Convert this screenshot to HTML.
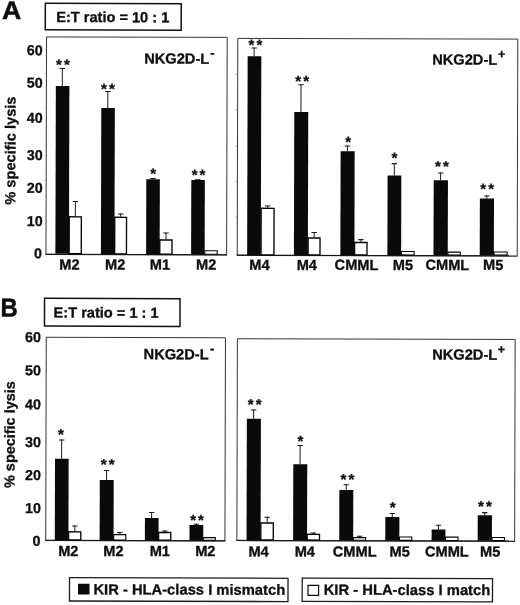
<!DOCTYPE html>
<html lang="en">
<head>
<meta charset="utf-8">
<title>Figure</title>
<style>
html,body{margin:0;padding:0;background:#fff;}
body{width:520px;height:605px;overflow:hidden;}
svg{display:block;will-change:transform;font-family:'Liberation Sans',Arial,Helvetica,sans-serif;fill:#0d0d0d;}
</style>
</head>
<body>
<svg width="520" height="605" viewBox="0 0 520 605" font-family="Liberation Sans, Arial, Helvetica, sans-serif">
<rect x="0" y="0" width="520" height="605" fill="#ffffff"/>
<g transform="rotate(0.149 260.0 302.0)">
<text transform="translate(1.26,19.77) scale(1.045,1)" font-size="25.45" font-weight="bold" text-anchor="start" stroke="#0d0d0d" stroke-width="0.5">A</text>
<text transform="translate(0.64,317.07) scale(0.915,1)" font-size="26.01" font-weight="bold" text-anchor="start" stroke="#0d0d0d" stroke-width="0.5">B</text>
<rect x="44.56" y="3.88" width="135.9" height="26.5" fill="none" stroke="#111" stroke-width="1.5"/>
<text transform="translate(55.46,22.48)" font-size="14.6" font-weight="bold" text-anchor="start" stroke="#0d0d0d" stroke-width="0.3">E:T ratio = 10 : 1</text>
<rect x="44.53" y="298.88" width="135.5" height="27.8" fill="none" stroke="#111" stroke-width="1.5"/>
<text transform="translate(53.63,318.0)" font-size="14.6" font-weight="bold" text-anchor="start" stroke="#0d0d0d" stroke-width="0.3">E:T ratio = 1 : 1</text>
<text transform="translate(41.95,55.73)" font-size="14.3" font-weight="bold" text-anchor="end" stroke="#0d0d0d" stroke-width="0.3">60</text>
<text transform="translate(42.03,88.23)" font-size="14.3" font-weight="bold" text-anchor="end" stroke="#0d0d0d" stroke-width="0.3">50</text>
<text transform="translate(42.12,123.33)" font-size="14.3" font-weight="bold" text-anchor="end" stroke="#0d0d0d" stroke-width="0.3">40</text>
<text transform="translate(42.22,160.63)" font-size="14.3" font-weight="bold" text-anchor="end" stroke="#0d0d0d" stroke-width="0.3">30</text>
<text transform="translate(42.3,193.43)" font-size="14.3" font-weight="bold" text-anchor="end" stroke="#0d0d0d" stroke-width="0.3">20</text>
<text transform="translate(42.39,226.63)" font-size="14.3" font-weight="bold" text-anchor="end" stroke="#0d0d0d" stroke-width="0.3">10</text>
<text transform="translate(41.87,258.73)" font-size="14.3" font-weight="bold" text-anchor="end" stroke="#0d0d0d" stroke-width="0.3">0</text>
<text transform="translate(41.09,342.64)" font-size="14.3" font-weight="bold" text-anchor="end" stroke="#0d0d0d" stroke-width="0.3">60</text>
<text transform="translate(41.18,375.84)" font-size="14.3" font-weight="bold" text-anchor="end" stroke="#0d0d0d" stroke-width="0.3">50</text>
<text transform="translate(41.27,409.74)" font-size="14.3" font-weight="bold" text-anchor="end" stroke="#0d0d0d" stroke-width="0.3">40</text>
<text transform="translate(41.36,447.64)" font-size="14.3" font-weight="bold" text-anchor="end" stroke="#0d0d0d" stroke-width="0.3">30</text>
<text transform="translate(41.45,480.54)" font-size="14.3" font-weight="bold" text-anchor="end" stroke="#0d0d0d" stroke-width="0.3">20</text>
<text transform="translate(41.54,513.54)" font-size="14.3" font-weight="bold" text-anchor="end" stroke="#0d0d0d" stroke-width="0.3">10</text>
<text transform="translate(41.02,546.34)" font-size="14.3" font-weight="bold" text-anchor="end" stroke="#0d0d0d" stroke-width="0.3">0</text>
<text transform="translate(15.01,151.24) rotate(-90)" font-size="14.65" font-weight="bold" text-anchor="middle" stroke="#0d0d0d" stroke-width="0.3">% specific lysis</text>
<text transform="translate(15.04,435.24) rotate(-90)" font-size="14.45" font-weight="bold" text-anchor="middle" stroke="#0d0d0d" stroke-width="0.3">% specific lysis</text>
<rect x="45.85" y="37.47" width="180.65" height="217.43" fill="none" stroke="#2a2a2a" stroke-width="0.95"/>
<line x1="45.35" y1="254.9" x2="227.0" y2="254.9" stroke="#151515" stroke-width="1.25"/>
<line x1="61.72" y1="68.51" x2="61.72" y2="86.51" stroke="#1a1a1a" stroke-width="1.0"/>
<line x1="59.02" y1="68.96" x2="64.42" y2="68.96" stroke="#1a1a1a" stroke-width="1.1"/>
<rect x="55.26" y="86.51" width="13.55" height="167.86" fill="#0a0a0a"/>
<line x1="75.11" y1="201.48" x2="75.11" y2="216.78" stroke="#1a1a1a" stroke-width="1.0"/>
<line x1="72.41" y1="201.93" x2="77.81" y2="201.93" stroke="#1a1a1a" stroke-width="1.1"/>
<rect x="69.03" y="217.28" width="12.1" height="36.91" fill="#fff" stroke="#050505" stroke-width="1.35"/>
<line x1="107.27" y1="91.4" x2="107.27" y2="108.4" stroke="#1a1a1a" stroke-width="1.0"/>
<line x1="104.57" y1="91.85" x2="109.97" y2="91.85" stroke="#1a1a1a" stroke-width="1.1"/>
<rect x="100.79" y="108.4" width="13.55" height="146.04" fill="#0a0a0a"/>
<line x1="120.47" y1="213.86" x2="120.47" y2="217.16" stroke="#1a1a1a" stroke-width="1.0"/>
<line x1="117.77" y1="214.31" x2="123.17" y2="214.31" stroke="#1a1a1a" stroke-width="1.1"/>
<rect x="114.53" y="217.66" width="11.8" height="36.59" fill="#fff" stroke="#050505" stroke-width="1.35"/>
<line x1="152.58" y1="178.28" x2="152.58" y2="179.58" stroke="#1a1a1a" stroke-width="1.0"/>
<line x1="149.88" y1="178.73" x2="155.28" y2="178.73" stroke="#1a1a1a" stroke-width="1.1"/>
<rect x="145.98" y="179.58" width="13.55" height="74.91" fill="#0a0a0a"/>
<line x1="165.83" y1="232.74" x2="165.83" y2="239.74" stroke="#1a1a1a" stroke-width="1.0"/>
<line x1="163.13" y1="233.19" x2="168.53" y2="233.19" stroke="#1a1a1a" stroke-width="1.1"/>
<rect x="159.66" y="240.24" width="12.2" height="14.07" fill="#fff" stroke="#050505" stroke-width="1.35"/>
<line x1="197.58" y1="179.56" x2="197.58" y2="180.16" stroke="#1a1a1a" stroke-width="1.0"/>
<line x1="194.88" y1="180.01" x2="200.28" y2="180.01" stroke="#1a1a1a" stroke-width="1.1"/>
<rect x="190.98" y="180.16" width="13.55" height="74.39" fill="#0a0a0a"/>
<rect x="204.67" y="250.88" width="12.4" height="3.49" fill="#fff" stroke="#050505" stroke-width="1.1"/>
<text x="63.43" y="70.26" font-size="15.0" font-weight="bold" text-anchor="middle" letter-spacing="2.1" stroke="#0d0d0d" stroke-width="0.3">**</text>
<text x="108.49" y="94.35" font-size="15.0" font-weight="bold" text-anchor="middle" letter-spacing="2.1" stroke="#0d0d0d" stroke-width="0.3">**</text>
<text x="154.01" y="179.13" font-size="15.0" font-weight="bold" text-anchor="middle" letter-spacing="2.1" stroke="#0d0d0d" stroke-width="0.3">*</text>
<text x="199.31" y="180.21" font-size="15.0" font-weight="bold" text-anchor="middle" letter-spacing="2.1" stroke="#0d0d0d" stroke-width="0.3">**</text>
<text transform="translate(69.4,270.0)" font-size="14.6" font-weight="bold" text-anchor="middle" stroke="#0d0d0d" stroke-width="0.3">M2</text>
<text transform="translate(115.1,269.88)" font-size="14.6" font-weight="bold" text-anchor="middle" stroke="#0d0d0d" stroke-width="0.3">M2</text>
<text transform="translate(159.9,269.76)" font-size="14.6" font-weight="bold" text-anchor="middle" stroke="#0d0d0d" stroke-width="0.3">M1</text>
<text transform="translate(206.1,269.64)" font-size="14.6" font-weight="bold" text-anchor="middle" stroke="#0d0d0d" stroke-width="0.3">M2</text>
<text transform="translate(143.57,63.82)" font-size="14.65" font-weight="bold" text-anchor="start" stroke="#0d0d0d" stroke-width="0.3">NKG2D-L</text>
<text transform="translate(209.66,57.42)" font-size="13.0" font-weight="bold" text-anchor="start" stroke="#0d0d0d" stroke-width="0.3">-</text>
<line x1="234.91" y1="74.46" x2="236.51" y2="74.46" stroke="#8c8c8c" stroke-width="0.8"/>
<line x1="43.81" y1="73.96" x2="45.31" y2="73.96" stroke="#a5a5a5" stroke-width="0.7"/>
<line x1="235.0" y1="110.16" x2="236.6" y2="110.16" stroke="#8c8c8c" stroke-width="0.8"/>
<line x1="43.9" y1="109.66" x2="45.4" y2="109.66" stroke="#a5a5a5" stroke-width="0.7"/>
<line x1="235.09" y1="145.86" x2="236.69" y2="145.86" stroke="#8c8c8c" stroke-width="0.8"/>
<line x1="43.99" y1="145.36" x2="45.49" y2="145.36" stroke="#a5a5a5" stroke-width="0.7"/>
<line x1="235.19" y1="181.56" x2="236.79" y2="181.56" stroke="#8c8c8c" stroke-width="0.8"/>
<line x1="44.08" y1="181.06" x2="45.58" y2="181.06" stroke="#a5a5a5" stroke-width="0.7"/>
<line x1="235.28" y1="217.26" x2="236.88" y2="217.26" stroke="#8c8c8c" stroke-width="0.8"/>
<line x1="44.18" y1="216.76" x2="45.68" y2="216.76" stroke="#a5a5a5" stroke-width="0.7"/>
<rect x="237.1" y="38.45" width="280.0" height="216.85" fill="none" stroke="#2a2a2a" stroke-width="0.95"/>
<line x1="236.6" y1="255.3" x2="517.6" y2="255.3" stroke="#151515" stroke-width="1.25"/>
<line x1="253.5" y1="47.52" x2="253.5" y2="56.32" stroke="#1a1a1a" stroke-width="1.0"/>
<line x1="250.8" y1="47.97" x2="256.2" y2="47.97" stroke="#1a1a1a" stroke-width="1.1"/>
<rect x="247.02" y="56.32" width="13.65" height="198.71" fill="#0a0a0a"/>
<line x1="267.4" y1="205.58" x2="267.4" y2="207.78" stroke="#1a1a1a" stroke-width="1.0"/>
<line x1="264.7" y1="206.03" x2="270.1" y2="206.03" stroke="#1a1a1a" stroke-width="1.1"/>
<rect x="260.92" y="208.28" width="12.9" height="46.52" fill="#fff" stroke="#050505" stroke-width="1.35"/>
<line x1="300.47" y1="84.19" x2="300.47" y2="111.89" stroke="#1a1a1a" stroke-width="1.0"/>
<line x1="297.77" y1="84.64" x2="303.17" y2="84.64" stroke="#1a1a1a" stroke-width="1.1"/>
<rect x="293.79" y="111.89" width="13.95" height="143.05" fill="#0a0a0a"/>
<line x1="313.98" y1="231.86" x2="313.98" y2="237.36" stroke="#1a1a1a" stroke-width="1.0"/>
<line x1="311.28" y1="232.31" x2="316.68" y2="232.31" stroke="#1a1a1a" stroke-width="1.1"/>
<rect x="307.96" y="237.86" width="11.9" height="16.85" fill="#fff" stroke="#050505" stroke-width="1.35"/>
<line x1="347.05" y1="145.27" x2="347.05" y2="151.07" stroke="#1a1a1a" stroke-width="1.0"/>
<line x1="344.35" y1="145.72" x2="349.75" y2="145.72" stroke="#1a1a1a" stroke-width="1.1"/>
<rect x="340.24" y="151.07" width="14.05" height="103.78" fill="#0a0a0a"/>
<line x1="360.74" y1="238.94" x2="360.74" y2="241.74" stroke="#1a1a1a" stroke-width="1.0"/>
<line x1="358.04" y1="239.39" x2="363.44" y2="239.39" stroke="#1a1a1a" stroke-width="1.1"/>
<rect x="354.46" y="242.24" width="12.4" height="12.39" fill="#fff" stroke="#050505" stroke-width="1.35"/>
<line x1="393.96" y1="162.85" x2="393.96" y2="175.15" stroke="#1a1a1a" stroke-width="1.0"/>
<line x1="391.26" y1="163.3" x2="396.66" y2="163.3" stroke="#1a1a1a" stroke-width="1.1"/>
<rect x="387.27" y="175.15" width="13.75" height="79.61" fill="#0a0a0a"/>
<rect x="401.17" y="251.07" width="12.9" height="3.47" fill="#fff" stroke="#050505" stroke-width="1.1"/>
<line x1="440.32" y1="172.03" x2="440.32" y2="179.73" stroke="#1a1a1a" stroke-width="1.0"/>
<line x1="437.62" y1="172.48" x2="443.02" y2="172.48" stroke="#1a1a1a" stroke-width="1.1"/>
<rect x="433.38" y="179.73" width="14.25" height="74.95" fill="#0a0a0a"/>
<rect x="447.77" y="251.65" width="12.4" height="2.8" fill="#fff" stroke="#050505" stroke-width="1.1"/>
<line x1="486.53" y1="194.91" x2="486.53" y2="198.01" stroke="#1a1a1a" stroke-width="1.0"/>
<line x1="483.83" y1="195.36" x2="489.23" y2="195.36" stroke="#1a1a1a" stroke-width="1.1"/>
<rect x="479.6" y="198.01" width="14.15" height="56.58" fill="#0a0a0a"/>
<rect x="493.87" y="251.42" width="13.1" height="2.94" fill="#fff" stroke="#050505" stroke-width="1.1"/>
<text x="255.77" y="49.96" font-size="15.0" font-weight="bold" text-anchor="middle" letter-spacing="2.1" stroke="#0d0d0d" stroke-width="0.3">**</text>
<text x="302.67" y="86.14" font-size="15.0" font-weight="bold" text-anchor="middle" letter-spacing="2.1" stroke="#0d0d0d" stroke-width="0.3">**</text>
<text x="348.73" y="146.82" font-size="15.0" font-weight="bold" text-anchor="middle" letter-spacing="2.1" stroke="#0d0d0d" stroke-width="0.3">*</text>
<text x="395.17" y="162.6" font-size="15.0" font-weight="bold" text-anchor="middle" letter-spacing="2.1" stroke="#0d0d0d" stroke-width="0.3">*</text>
<text x="442.69" y="171.08" font-size="15.0" font-weight="bold" text-anchor="middle" letter-spacing="2.1" stroke="#0d0d0d" stroke-width="0.3">**</text>
<text x="487.95" y="193.36" font-size="15.0" font-weight="bold" text-anchor="middle" letter-spacing="2.1" stroke="#0d0d0d" stroke-width="0.3">**</text>
<text transform="translate(259.4,269.9)" font-size="14.6" font-weight="bold" text-anchor="middle" stroke="#0d0d0d" stroke-width="0.3">M4</text>
<text transform="translate(306.7,269.78)" font-size="14.6" font-weight="bold" text-anchor="middle" stroke="#0d0d0d" stroke-width="0.3">M4</text>
<text transform="translate(356.4,269.65)" font-size="14.6" font-weight="bold" text-anchor="middle" stroke="#0d0d0d" stroke-width="0.3">CMML</text>
<text transform="translate(402.9,269.53)" font-size="14.6" font-weight="bold" text-anchor="middle" stroke="#0d0d0d" stroke-width="0.3">M5</text>
<text transform="translate(447.3,269.41)" font-size="14.6" font-weight="bold" text-anchor="middle" stroke="#0d0d0d" stroke-width="0.3">CMML</text>
<text transform="translate(493.1,269.29)" font-size="14.6" font-weight="bold" text-anchor="middle" stroke="#0d0d0d" stroke-width="0.3">M5</text>
<text transform="translate(431.57,64.07)" font-size="14.65" font-weight="bold" text-anchor="start" stroke="#0d0d0d" stroke-width="0.3">NKG2D-L</text>
<text transform="translate(497.36,57.57)" font-size="12.5" font-weight="bold" text-anchor="start" stroke="#0d0d0d" stroke-width="0.3">+</text>
<rect x="46.35" y="337.85" width="179.2" height="203.15" fill="none" stroke="#2a2a2a" stroke-width="0.95"/>
<line x1="45.85" y1="541.0" x2="226.05" y2="541.0" stroke="#151515" stroke-width="1.25"/>
<line x1="62.03" y1="440.02" x2="62.03" y2="459.32" stroke="#1a1a1a" stroke-width="1.0"/>
<line x1="59.33" y1="440.47" x2="64.73" y2="440.47" stroke="#1a1a1a" stroke-width="1.1"/>
<rect x="55.41" y="459.32" width="13.65" height="81.25" fill="#0a0a0a"/>
<line x1="75.39" y1="525.98" x2="75.39" y2="531.78" stroke="#1a1a1a" stroke-width="1.0"/>
<line x1="72.69" y1="526.43" x2="78.09" y2="526.43" stroke="#1a1a1a" stroke-width="1.1"/>
<rect x="69.21" y="532.28" width="12.2" height="8.1" fill="#fff" stroke="#050505" stroke-width="1.35"/>
<line x1="107.05" y1="470.4" x2="107.05" y2="480.4" stroke="#1a1a1a" stroke-width="1.0"/>
<line x1="104.35" y1="470.85" x2="109.75" y2="470.85" stroke="#1a1a1a" stroke-width="1.1"/>
<rect x="100.24" y="480.4" width="13.95" height="60.2" fill="#0a0a0a"/>
<line x1="120.45" y1="532.36" x2="120.45" y2="534.86" stroke="#1a1a1a" stroke-width="1.0"/>
<line x1="117.75" y1="532.81" x2="123.15" y2="532.81" stroke="#1a1a1a" stroke-width="1.1"/>
<rect x="114.31" y="535.01" width="12.1" height="5.4" fill="#fff" stroke="#050505" stroke-width="1.1"/>
<line x1="152.2" y1="512.28" x2="152.2" y2="518.28" stroke="#1a1a1a" stroke-width="1.0"/>
<line x1="149.5" y1="512.73" x2="154.9" y2="512.73" stroke="#1a1a1a" stroke-width="1.1"/>
<rect x="145.49" y="518.28" width="13.65" height="22.35" fill="#0a0a0a"/>
<line x1="165.4" y1="530.75" x2="165.4" y2="532.25" stroke="#1a1a1a" stroke-width="1.0"/>
<line x1="162.7" y1="531.2" x2="168.1" y2="531.2" stroke="#1a1a1a" stroke-width="1.1"/>
<rect x="159.21" y="532.75" width="12.2" height="7.7" fill="#fff" stroke="#050505" stroke-width="1.35"/>
<line x1="196.88" y1="523.97" x2="196.88" y2="525.17" stroke="#1a1a1a" stroke-width="1.0"/>
<line x1="194.18" y1="524.42" x2="199.58" y2="524.42" stroke="#1a1a1a" stroke-width="1.1"/>
<rect x="190.1" y="525.17" width="13.75" height="15.5" fill="#0a0a0a"/>
<rect x="203.92" y="537.78" width="12.0" height="2.7" fill="#fff" stroke="#050505" stroke-width="1.1"/>
<text x="62.29" y="439.97" font-size="15.0" font-weight="bold" text-anchor="middle" letter-spacing="2.1" stroke="#0d0d0d" stroke-width="0.3">*</text>
<text x="109.07" y="469.85" font-size="15.0" font-weight="bold" text-anchor="middle" letter-spacing="2.1" stroke="#0d0d0d" stroke-width="0.3">**</text>
<text x="198.71" y="525.51" font-size="15.0" font-weight="bold" text-anchor="middle" letter-spacing="2.1" stroke="#0d0d0d" stroke-width="0.3">**</text>
<text transform="translate(68.95,556.5)" font-size="14.6" font-weight="bold" text-anchor="middle" stroke="#0d0d0d" stroke-width="0.3">M2</text>
<text transform="translate(114.05,556.38)" font-size="14.6" font-weight="bold" text-anchor="middle" stroke="#0d0d0d" stroke-width="0.3">M2</text>
<text transform="translate(160.45,556.26)" font-size="14.6" font-weight="bold" text-anchor="middle" stroke="#0d0d0d" stroke-width="0.3">M1</text>
<text transform="translate(205.95,556.14)" font-size="14.6" font-weight="bold" text-anchor="middle" stroke="#0d0d0d" stroke-width="0.3">M2</text>
<text transform="translate(143.74,359.42)" font-size="14.65" font-weight="bold" text-anchor="start" stroke="#0d0d0d" stroke-width="0.3">NKG2D-L</text>
<text transform="translate(210.23,353.22)" font-size="13.0" font-weight="bold" text-anchor="start" stroke="#0d0d0d" stroke-width="0.3">-</text>
<rect x="237.5" y="338.8" width="277.76" height="201.75" fill="none" stroke="#2a2a2a" stroke-width="0.95"/>
<line x1="237.0" y1="540.55" x2="515.76" y2="540.55" stroke="#151515" stroke-width="1.25"/>
<line x1="253.94" y1="409.52" x2="253.94" y2="418.82" stroke="#1a1a1a" stroke-width="1.0"/>
<line x1="251.24" y1="409.97" x2="256.64" y2="409.97" stroke="#1a1a1a" stroke-width="1.1"/>
<rect x="247.16" y="418.82" width="14.05" height="121.25" fill="#0a0a0a"/>
<line x1="267.72" y1="516.78" x2="267.72" y2="522.48" stroke="#1a1a1a" stroke-width="1.0"/>
<line x1="265.02" y1="517.23" x2="270.42" y2="517.23" stroke="#1a1a1a" stroke-width="1.1"/>
<rect x="261.4" y="522.98" width="12.5" height="16.9" fill="#fff" stroke="#050505" stroke-width="1.35"/>
<line x1="300.5" y1="444.9" x2="300.5" y2="464.2" stroke="#1a1a1a" stroke-width="1.0"/>
<line x1="297.8" y1="445.35" x2="303.2" y2="445.35" stroke="#1a1a1a" stroke-width="1.1"/>
<rect x="293.72" y="464.2" width="13.95" height="75.91" fill="#0a0a0a"/>
<line x1="314.05" y1="532.36" x2="314.05" y2="533.66" stroke="#1a1a1a" stroke-width="1.0"/>
<line x1="311.35" y1="532.81" x2="316.75" y2="532.81" stroke="#1a1a1a" stroke-width="1.1"/>
<rect x="307.81" y="534.16" width="12.3" height="5.75" fill="#fff" stroke="#050505" stroke-width="1.35"/>
<line x1="346.68" y1="484.08" x2="346.68" y2="489.78" stroke="#1a1a1a" stroke-width="1.0"/>
<line x1="343.98" y1="484.53" x2="349.38" y2="484.53" stroke="#1a1a1a" stroke-width="1.1"/>
<rect x="339.85" y="489.78" width="13.95" height="50.35" fill="#0a0a0a"/>
<line x1="360.21" y1="535.54" x2="360.21" y2="537.24" stroke="#1a1a1a" stroke-width="1.0"/>
<line x1="357.51" y1="535.99" x2="362.91" y2="535.99" stroke="#1a1a1a" stroke-width="1.1"/>
<rect x="353.92" y="537.39" width="12.4" height="2.55" fill="#fff" stroke="#050505" stroke-width="1.1"/>
<line x1="392.8" y1="512.76" x2="392.8" y2="516.76" stroke="#1a1a1a" stroke-width="1.0"/>
<line x1="390.1" y1="513.21" x2="395.5" y2="513.21" stroke="#1a1a1a" stroke-width="1.1"/>
<rect x="385.89" y="516.76" width="14.05" height="23.4" fill="#0a0a0a"/>
<rect x="400.02" y="536.57" width="12.4" height="3.4" fill="#fff" stroke="#050505" stroke-width="1.1"/>
<line x1="439.04" y1="524.34" x2="439.04" y2="529.14" stroke="#1a1a1a" stroke-width="1.0"/>
<line x1="436.34" y1="524.79" x2="441.74" y2="524.79" stroke="#1a1a1a" stroke-width="1.1"/>
<rect x="432.21" y="529.14" width="13.85" height="11.05" fill="#0a0a0a"/>
<rect x="446.12" y="536.65" width="12.5" height="3.35" fill="#fff" stroke="#050505" stroke-width="1.1"/>
<line x1="485.3" y1="511.62" x2="485.3" y2="514.62" stroke="#1a1a1a" stroke-width="1.0"/>
<line x1="482.6" y1="512.07" x2="488.0" y2="512.07" stroke="#1a1a1a" stroke-width="1.1"/>
<rect x="478.29" y="514.62" width="14.25" height="25.6" fill="#0a0a0a"/>
<rect x="492.62" y="536.93" width="12.4" height="3.1" fill="#fff" stroke="#050505" stroke-width="1.1"/>
<text x="255.91" y="409.46" font-size="15.0" font-weight="bold" text-anchor="middle" letter-spacing="2.1" stroke="#0d0d0d" stroke-width="0.3">**</text>
<text x="301.9" y="446.14" font-size="15.0" font-weight="bold" text-anchor="middle" letter-spacing="2.1" stroke="#0d0d0d" stroke-width="0.3">*</text>
<text x="349.0" y="484.22" font-size="15.0" font-weight="bold" text-anchor="middle" letter-spacing="2.1" stroke="#0d0d0d" stroke-width="0.3">**</text>
<text x="394.18" y="512.11" font-size="15.0" font-weight="bold" text-anchor="middle" letter-spacing="2.1" stroke="#0d0d0d" stroke-width="0.3">*</text>
<text x="486.57" y="510.97" font-size="15.0" font-weight="bold" text-anchor="middle" letter-spacing="2.1" stroke="#0d0d0d" stroke-width="0.3">**</text>
<text transform="translate(259.25,556.5)" font-size="14.6" font-weight="bold" text-anchor="middle" stroke="#0d0d0d" stroke-width="0.3">M4</text>
<text transform="translate(305.45,556.38)" font-size="14.6" font-weight="bold" text-anchor="middle" stroke="#0d0d0d" stroke-width="0.3">M4</text>
<text transform="translate(355.35,556.25)" font-size="14.6" font-weight="bold" text-anchor="middle" stroke="#0d0d0d" stroke-width="0.3">CMML</text>
<text transform="translate(400.35,556.14)" font-size="14.6" font-weight="bold" text-anchor="middle" stroke="#0d0d0d" stroke-width="0.3">M5</text>
<text transform="translate(447.55,556.01)" font-size="14.6" font-weight="bold" text-anchor="middle" stroke="#0d0d0d" stroke-width="0.3">CMML</text>
<text transform="translate(490.85,555.9)" font-size="14.6" font-weight="bold" text-anchor="middle" stroke="#0d0d0d" stroke-width="0.3">M5</text>
<text transform="translate(432.34,359.07)" font-size="14.65" font-weight="bold" text-anchor="start" stroke="#0d0d0d" stroke-width="0.3">NKG2D-L</text>
<text transform="translate(497.82,352.97)" font-size="12.5" font-weight="bold" text-anchor="start" stroke="#0d0d0d" stroke-width="0.3">+</text>
<rect x="70.25" y="578.21" width="218.5" height="23.3" fill="none" stroke="#1c1c1c" stroke-width="1.3"/>
<rect x="78.75" y="584.26" width="11.5" height="10.8" fill="#0a0a0a"/>
<text transform="translate(94.15,594.79)" font-size="14.75" font-weight="bold" text-anchor="start" stroke="#0d0d0d" stroke-width="0.3">KIR - HLA-class I mismatch</text>
<rect x="302.95" y="578.04" width="190.3" height="23.2" fill="none" stroke="#1c1c1c" stroke-width="1.3"/>
<rect x="308.75" y="585.26" width="10.6" height="10.0" fill="#fff" stroke="#0a0a0a" stroke-width="1.2"/>
<text transform="translate(324.45,594.52)" font-size="14.78" font-weight="bold" text-anchor="start" stroke="#0d0d0d" stroke-width="0.3">KIR - HLA-class I match</text>
</g>
</svg>
</body>
</html>
